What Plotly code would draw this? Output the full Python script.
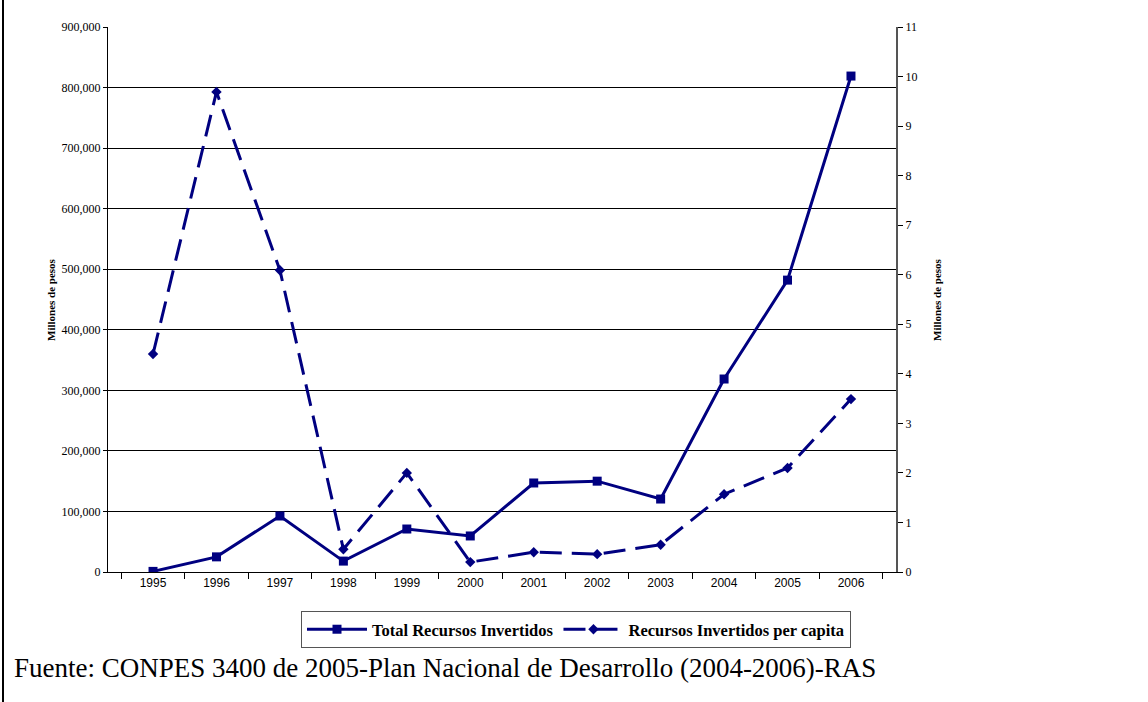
import plotly.graph_objects as go

years = ["1995", "1996", "1997", "1998", "1999", "2000", "2001", "2002", "2003", "2004", "2005", "2006"]
total_recursos = [1000, 25000, 92500, 18000, 71000, 59500, 147000, 150000, 120500, 318700, 482000, 819000]
per_capita = [4.40, 9.69, 6.09, 0.46, 2.00, 0.20, 0.40, 0.36, 0.55, 1.57, 2.10, 3.49]
left_ticks = [0, 100000, 200000, 300000, 400000, 500000, 600000, 700000, 800000, 900000]
right_ticks = list(range(0, 12))
axis_title = "Millones de pesos"
source_text = "Fuente: CONPES 3400 de 2005-Plan Nacional de Desarrollo (2004-2006)-RAS"

W, H = 1148, 702
ML, MR, MT, MB = 108, 252, 27, 130
PW, PH = W - ML - MR, H - MT - MB

def px_x(x):
    return (x - ML) / PW

def px_y(y):
    return (H - MB - y) / PH

navy = "#000080"
serif = "Liberation Serif"

fig = go.Figure()
fig.add_trace(go.Scatter(
    x=years, y=total_recursos, name="Total Recursos Invertidos",
    mode="lines+markers",
    line=dict(color=navy, width=3),
    marker=dict(symbol="square", size=9, color=navy),
    yaxis="y",
))
fig.add_trace(go.Scatter(
    x=years, y=per_capita, name="Recursos Invertidos per capita",
    mode="lines+markers",
    line=dict(color=navy, width=3, dash="22px,10px"),
    marker=dict(symbol="diamond", size=8, color=navy),
    yaxis="y2",
))

title_font = dict(family=serif, size=11, color="black", weight="bold")

fig.update_layout(
    width=W, height=H,
    margin=dict(l=ML, r=MR, t=MT, b=MB),
    paper_bgcolor="white", plot_bgcolor="white",
    font=dict(family=serif, color="black"),
    showlegend=True,
    legend=dict(
        orientation="h", x=px_x(301), y=px_y(611), xanchor="left", yanchor="top",
        bordercolor="#555555", borderwidth=1,
        font=dict(family=serif, size=16.5, color="black", weight="bold"),
        itemwidth=60, tracegroupgap=0,
    ),
    xaxis=dict(
        type="category", showgrid=False, showline=True, linecolor="black", linewidth=1,
        ticks="outside", tickson="boundaries", ticklen=6, tickcolor="black",
        tickfont=dict(family="Liberation Sans", size=12, color="black"),
    ),
    yaxis=dict(
        range=[0, 900000], tickvals=left_ticks, tickformat=",d",
        showgrid=True, gridcolor="black", gridwidth=1,
        showline=True, linecolor="black", linewidth=1,
        ticks="outside", ticklen=4, tickcolor="black",
        tickfont=dict(family=serif, size=12, color="black"),
        zeroline=False,
    ),
    yaxis2=dict(
        range=[0, 11], tickvals=right_ticks, overlaying="y", side="right",
        showgrid=False, showline=True, linecolor="#555555", linewidth=2,
        ticks="outside", ticklen=5, tickcolor="black",
        tickfont=dict(family=serif, size=12, color="black"),
        zeroline=False,
    ),
    annotations=[
        dict(
            text=source_text,
            xref="paper", yref="paper", x=px_x(12), y=px_y(668),
            xanchor="left", yanchor="middle", showarrow=False,
            font=dict(family=serif, size=27, color="black"),
        ),
        dict(
            text=axis_title, textangle=-90,
            xref="paper", yref="paper", x=px_x(51), y=px_y(300),
            xanchor="center", yanchor="middle", showarrow=False,
            font=title_font,
        ),
        dict(
            text=axis_title, textangle=-90,
            xref="paper", yref="paper", x=px_x(937), y=px_y(300),
            xanchor="center", yanchor="middle", showarrow=False,
            font=title_font,
        ),
    ],
    shapes=[dict(
        type="line", xref="paper", yref="paper",
        x0=px_x(3), x1=px_x(3), y0=px_y(H), y1=px_y(0),
        line=dict(color="black", width=2),
    )],
)

fig.write_html(
    "out.html",
    config={"displayModeBar": False},
    post_script="document.body.style.margin='0';document.body.style.overflow='hidden';",
)
